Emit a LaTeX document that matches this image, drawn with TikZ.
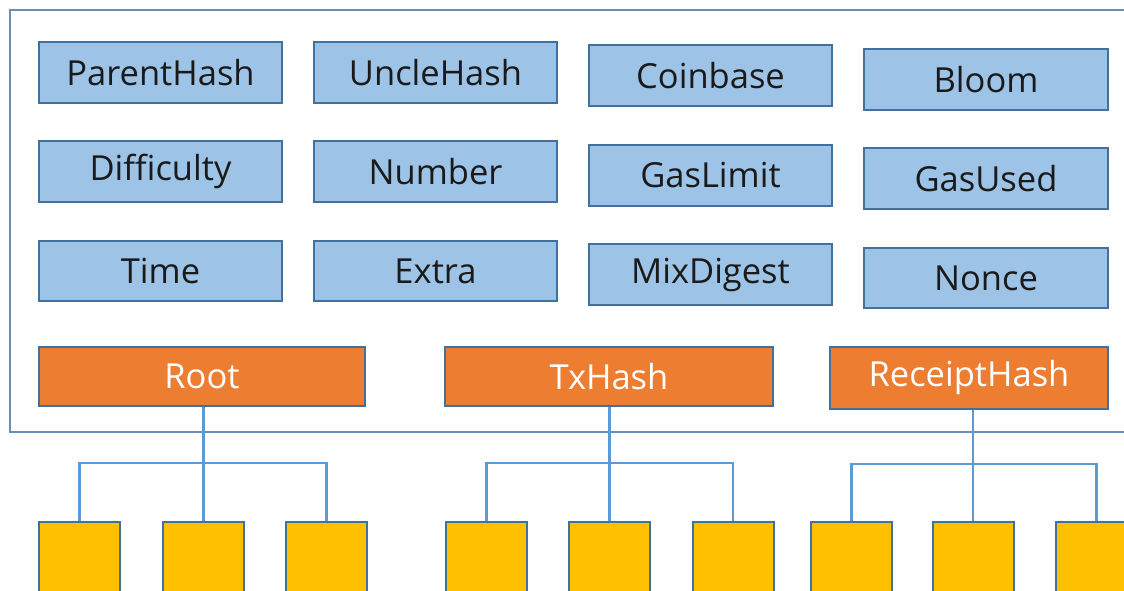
\documentclass[tikz,border=0pt]{standalone}
\usepackage{fontspec}
\setmainfont{Open Sans}
\definecolor{bfill}{HTML}{9DC3E6}
\definecolor{bdraw}{HTML}{41719C}
\definecolor{ofill}{HTML}{ED7D31}
\definecolor{yfill}{HTML}{FFC000}
\definecolor{conncol}{HTML}{5B9BD5}
\definecolor{framecol}{HTML}{6A8EBB}
\definecolor{txtcol}{HTML}{1A1A1A}
\tikzset{
  field/.style={draw=bdraw, line width=2pt, fill=bfill, minimum width=243pt, minimum height=61pt, inner sep=0pt, text=txtcol, font=\fontsize{34.5}{38}\selectfont},
  hashbox/.style={draw=bdraw, line width=2pt, fill=ofill, minimum height=59pt, inner sep=0pt, text=white, font=\fontsize{34.5}{38}\selectfont},
  leaf/.style={draw=bdraw, line width=2pt, fill=yfill, minimum width=81pt, minimum height=100pt, inner sep=0pt},
  conn/.style={draw=conncol, line width=2.2pt},
  frame/.style={draw=framecol, line width=2pt}
}
\begin{document}
\begin{tikzpicture}[x=1pt,y=-1pt]
\useasboundingbox (0,0) rectangle (1124,590);
\clip (0,0) rectangle (1124,590);
\draw[frame] (10,10) rectangle (1160,432);
% fields
\node[field] (ph) at (160.5,72.5) {ParentHash};
\node[field] (uh) at (435.5,72.5) {UncleHash};
\node[field] (cb) at (710.5,75.5) {Coinbase};
\node[field,minimum width=244pt] (bl) at (986,79.5) {Bloom};
\node[field] (df) at (160.5,171.5) {Difficulty};
\node[field] (nu) at (435.5,171.5) {Number};
\node[field] (gl) at (710.5,175.5) {GasLimit};
\node[field,minimum width=244pt] (gu) at (986,178.5) {GasUsed};
\node[field,minimum height=60pt] (tm) at (160.5,271) {Time};
\node[field,minimum height=60pt] (ex) at (435.5,271) {Extra};
\node[field] (md) at (710.5,274.5) {MixDigest};
\node[field,minimum width=244pt,minimum height=60pt] (nc) at (986,278) {Nonce};
% hashes
\node[hashbox,minimum width=326pt] (rt) at (202,376.5) {Root};
\node[hashbox,minimum width=328pt] (tx) at (609,376.5) {TxHash};
\node[hashbox,minimum width=278pt,minimum height=62pt] (rc) at (969,377.5) {ReceiptHash};
% leaves
\node[leaf] (a1) at (79.5,572) {};
\node[leaf] (a2) at (203.5,572) {};
\node[leaf] (a3) at (326.5,572) {};
\node[leaf] (b1) at (486.5,572) {};
\node[leaf] (b2) at (609.5,572) {};
\node[leaf] (b3) at (733,572) {};
\node[leaf] (c1) at (851.5,572) {};
\node[leaf] (c2) at (973,572) {};
\node[leaf] (c3) at (1096.5,572) {};
% connectors
\coordinate (ja) at (203.5,463);
\coordinate (jb) at (609.5,463);
\coordinate (jc) at (973,464);
\draw[conn] (a2.north |- rt.south) -- (a2.north);
\draw[conn] (a1.north) |- (ja) -| (a3.north);
\draw[conn] (b2.north |- tx.south) -- (b2.north);
\draw[conn] (b1.north) |- (jb) -| (b3.north);
\draw[conn] (c2.north |- rc.south) -- (c2.north);
\draw[conn] (c1.north) |- (jc) -| (c3.north);
\end{tikzpicture}
\end{document}
